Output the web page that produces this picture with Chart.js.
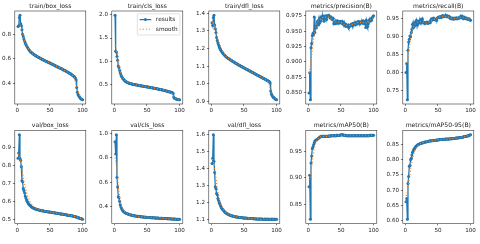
<!DOCTYPE html>
<html><head><meta charset="utf-8">
<script src="https://cdn.jsdelivr.net/npm/chart.js@4.4.1/dist/chart.umd.min.js"></script>
<style>html,body{margin:0;padding:0;background:#fff;width:480px;height:244px;overflow:hidden;position:relative}canvas{position:absolute;left:0;top:0}</style>
</head><body>
<script>
const epochs = [1,2,3,4,5,6,7,8,9,10,11,12,13,14,15,16,17,18,19,20,21,22,23,24,25,26,27,28,29,30,31,32,33,34,35,36,37,38,39,40,41,42,43,44,45,46,47,48,49,50,51,52,53,54,55,56,57,58,59,60,61,62,63,64,65,66,67,68,69,70,71,72,73,74,75,76,77,78,79,80,81,82,83,84,85,86,87,88,89,90,91,92,93,94,95,96,97,98,99,100];
const titles = ['train/box_loss','train/cls_loss','train/dfl_loss','metrics/precision(B)','metrics/recall(B)','val/box_loss','val/cls_loss','val/dfl_loss','metrics/mAP50(B)','metrics/mAP50-95(B)'];
const seriesLabels = ['results','smooth'];
const xTickLabels = ['0','50','100'];

const trainBoxLoss = [0.862,0.868,0.935,0.953,0.885,0.870,0.835,0.800,0.780,0.760,0.745,0.731,0.719,0.707,0.697,0.688,0.680,0.672,0.665,0.658,0.654,0.649,0.645,0.641,0.637,0.634,0.630,0.627,0.623,0.620,0.617,0.614,0.611,0.608,0.605,0.602,0.599,0.597,0.594,0.591,0.589,0.586,0.583,0.581,0.578,0.576,0.573,0.571,0.568,0.566,0.563,0.561,0.558,0.556,0.553,0.550,0.548,0.545,0.543,0.540,0.537,0.535,0.532,0.529,0.527,0.524,0.521,0.519,0.516,0.513,0.510,0.508,0.505,0.502,0.499,0.496,0.493,0.490,0.487,0.484,0.481,0.477,0.474,0.470,0.466,0.462,0.457,0.452,0.446,0.432,0.368,0.330,0.312,0.301,0.293,0.286,0.280,0.276,0.272,0.269];
const trainBoxLossSmooth = [0.887,0.886,0.882,0.874,0.862,0.846,0.828,0.808,0.789,0.771,0.754,0.739,0.725,0.713,0.702,0.692,0.683,0.675,0.668,0.662,0.656,0.651,0.646,0.642,0.638,0.634,0.631,0.627,0.624,0.620,0.617,0.614,0.611,0.608,0.605,0.602,0.599,0.597,0.594,0.591,0.589,0.586,0.583,0.581,0.578,0.576,0.573,0.571,0.568,0.566,0.563,0.561,0.558,0.556,0.553,0.550,0.548,0.545,0.543,0.540,0.537,0.535,0.532,0.529,0.527,0.524,0.521,0.519,0.516,0.513,0.510,0.508,0.505,0.502,0.499,0.496,0.493,0.490,0.486,0.483,0.480,0.476,0.472,0.468,0.464,0.457,0.447,0.433,0.417,0.399,0.379,0.359,0.341,0.325,0.312,0.301,0.293,0.286,0.281,0.278];
const trainClsLoss = [1.995,1.215,1.195,1.100,1.020,0.895,0.860,0.800,0.745,0.705,0.672,0.645,0.622,0.603,0.588,0.575,0.563,0.553,0.545,0.537,0.531,0.525,0.520,0.515,0.511,0.507,0.503,0.499,0.496,0.493,0.490,0.487,0.484,0.481,0.478,0.475,0.473,0.470,0.467,0.465,0.462,0.460,0.457,0.455,0.452,0.450,0.447,0.445,0.442,0.440,0.437,0.435,0.432,0.430,0.427,0.425,0.422,0.419,0.417,0.414,0.411,0.409,0.406,0.403,0.400,0.397,0.394,0.391,0.388,0.385,0.382,0.379,0.376,0.372,0.369,0.366,0.362,0.358,0.355,0.351,0.347,0.343,0.339,0.335,0.330,0.326,0.321,0.316,0.310,0.300,0.218,0.198,0.188,0.181,0.176,0.171,0.168,0.165,0.162,0.160];
const trainClsLossSmooth = [1.344,1.306,1.239,1.153,1.063,0.977,0.903,0.834,0.781,0.738,0.701,0.666,0.642,0.622,0.605,0.590,0.578,0.567,0.558,0.550,0.542,0.535,0.529,0.523,0.518,0.513,0.509,0.505,0.501,0.497,0.494,0.490,0.487,0.484,0.481,0.478,0.475,0.472,0.469,0.466,0.463,0.460,0.458,0.455,0.453,0.450,0.447,0.445,0.442,0.440,0.437,0.435,0.432,0.430,0.427,0.425,0.422,0.419,0.417,0.414,0.411,0.409,0.406,0.403,0.400,0.397,0.394,0.391,0.388,0.385,0.382,0.379,0.375,0.372,0.369,0.365,0.362,0.358,0.354,0.350,0.346,0.342,0.338,0.333,0.327,0.319,0.308,0.294,0.276,0.257,0.238,0.221,0.207,0.196,0.187,0.180,0.175,0.171,0.168,0.167];
const trainDflLoss = [1.345,1.330,1.375,1.388,1.332,1.312,1.290,1.262,1.245,1.230,1.220,1.210,1.201,1.193,1.187,1.181,1.176,1.171,1.167,1.163,1.159,1.156,1.152,1.149,1.146,1.143,1.141,1.138,1.136,1.133,1.131,1.128,1.126,1.124,1.121,1.119,1.117,1.115,1.113,1.110,1.108,1.106,1.104,1.102,1.100,1.098,1.096,1.094,1.092,1.090,1.088,1.086,1.084,1.082,1.080,1.078,1.076,1.074,1.072,1.070,1.068,1.066,1.064,1.062,1.060,1.058,1.056,1.054,1.052,1.050,1.048,1.046,1.044,1.042,1.040,1.038,1.036,1.034,1.032,1.030,1.028,1.026,1.024,1.022,1.020,1.018,1.016,1.014,1.011,1.006,0.958,0.943,0.935,0.929,0.924,0.920,0.917,0.914,0.911,0.909];
const trainDflLossSmooth = [1.347,1.345,1.340,1.333,1.323,1.311,1.297,1.283,1.269,1.256,1.244,1.233,1.222,1.212,1.203,1.195,1.188,1.181,1.175,1.169,1.164,1.160,1.156,1.152,1.148,1.145,1.142,1.139,1.136,1.134,1.131,1.128,1.126,1.124,1.121,1.119,1.117,1.115,1.113,1.110,1.108,1.106,1.104,1.102,1.100,1.098,1.096,1.094,1.092,1.090,1.088,1.086,1.084,1.082,1.080,1.078,1.076,1.074,1.072,1.070,1.068,1.066,1.064,1.062,1.060,1.058,1.056,1.054,1.052,1.050,1.048,1.046,1.044,1.042,1.040,1.038,1.036,1.034,1.032,1.030,1.028,1.026,1.023,1.021,1.018,1.014,1.009,1.002,0.993,0.982,0.970,0.959,0.949,0.941,0.934,0.928,0.924,0.920,0.918,0.917];
const precision = [0.849,0.882,0.838,0.923,0.930,0.943,0.946,0.944,0.973,0.948,0.958,0.955,0.962,0.966,0.960,0.968,0.963,0.972,0.966,0.973,0.971,0.975,0.970,0.966,0.974,0.972,0.975,0.969,0.975,0.974,0.976,0.973,0.974,0.971,0.973,0.970,0.969,0.971,0.962,0.964,0.962,0.966,0.963,0.967,0.964,0.966,0.963,0.965,0.966,0.964,0.963,0.966,0.962,0.964,0.960,0.962,0.958,0.961,0.959,0.957,0.960,0.956,0.959,0.958,0.961,0.960,0.962,0.959,0.963,0.961,0.963,0.960,0.964,0.962,0.965,0.963,0.966,0.964,0.962,0.965,0.964,0.966,0.963,0.967,0.965,0.962,0.966,0.956,0.968,0.963,0.958,0.962,0.967,0.969,0.966,0.970,0.968,0.972,0.974,0.975];
const precisionSmooth = [0.882,0.886,0.893,0.902,0.911,0.920,0.929,0.937,0.944,0.950,0.955,0.959,0.962,0.964,0.966,0.967,0.968,0.969,0.970,0.971,0.971,0.972,0.972,0.972,0.973,0.973,0.973,0.973,0.973,0.973,0.973,0.972,0.971,0.971,0.970,0.969,0.968,0.967,0.966,0.965,0.965,0.965,0.965,0.965,0.965,0.965,0.965,0.965,0.964,0.964,0.964,0.963,0.963,0.962,0.961,0.961,0.960,0.960,0.959,0.959,0.959,0.959,0.959,0.960,0.960,0.960,0.961,0.961,0.962,0.962,0.962,0.963,0.963,0.963,0.964,0.964,0.964,0.964,0.964,0.964,0.965,0.965,0.965,0.964,0.964,0.964,0.964,0.964,0.963,0.963,0.964,0.965,0.966,0.967,0.968,0.969,0.970,0.971,0.971,0.972];
const recall = [0.800,0.825,0.724,0.862,0.885,0.893,0.902,0.900,0.912,0.920,0.935,0.925,0.937,0.930,0.940,0.933,0.946,0.938,0.934,0.942,0.940,0.945,0.938,0.948,0.943,0.950,0.941,0.938,0.940,0.937,0.940,0.938,0.941,0.939,0.937,0.940,0.942,0.939,0.947,0.950,0.946,0.949,0.952,0.948,0.950,0.947,0.949,0.946,0.952,0.954,0.955,0.953,0.956,0.954,0.957,0.955,0.959,0.956,0.957,0.958,0.957,0.960,0.956,0.957,0.958,0.955,0.957,0.953,0.951,0.953,0.950,0.952,0.951,0.949,0.952,0.950,0.951,0.953,0.950,0.952,0.951,0.953,0.952,0.955,0.957,0.953,0.958,0.954,0.950,0.955,0.952,0.950,0.953,0.951,0.949,0.950,0.948,0.950,0.947,0.946];
const recallSmooth = [0.818,0.823,0.833,0.845,0.858,0.871,0.884,0.895,0.905,0.913,0.920,0.925,0.930,0.933,0.936,0.938,0.939,0.940,0.941,0.941,0.942,0.942,0.942,0.942,0.942,0.942,0.941,0.941,0.940,0.940,0.939,0.939,0.939,0.940,0.940,0.941,0.942,0.943,0.945,0.946,0.947,0.948,0.949,0.949,0.949,0.950,0.950,0.951,0.952,0.953,0.954,0.955,0.955,0.956,0.956,0.957,0.957,0.957,0.957,0.957,0.957,0.957,0.957,0.956,0.956,0.955,0.954,0.954,0.953,0.952,0.952,0.951,0.951,0.951,0.951,0.951,0.951,0.951,0.951,0.952,0.952,0.953,0.953,0.954,0.954,0.954,0.954,0.954,0.953,0.953,0.952,0.952,0.951,0.950,0.950,0.949,0.949,0.948,0.948,0.948];
const valBoxLoss = [0.840,0.870,0.972,0.840,0.830,0.795,0.715,0.710,0.672,0.660,0.648,0.630,0.619,0.609,0.600,0.593,0.587,0.582,0.578,0.575,0.572,0.569,0.566,0.564,0.562,0.560,0.559,0.557,0.556,0.555,0.554,0.553,0.552,0.551,0.550,0.549,0.548,0.548,0.547,0.546,0.545,0.545,0.544,0.543,0.543,0.542,0.542,0.541,0.541,0.540,0.539,0.539,0.538,0.538,0.537,0.537,0.536,0.535,0.535,0.534,0.533,0.533,0.532,0.532,0.531,0.530,0.530,0.529,0.529,0.528,0.527,0.527,0.526,0.525,0.525,0.524,0.523,0.523,0.522,0.521,0.521,0.520,0.520,0.519,0.518,0.517,0.516,0.515,0.514,0.513,0.512,0.511,0.509,0.508,0.507,0.505,0.504,0.503,0.501,0.500];
const valBoxLossSmooth = [0.863,0.860,0.853,0.841,0.825,0.805,0.783,0.760,0.737,0.716,0.697,0.680,0.664,0.650,0.638,0.627,0.617,0.609,0.601,0.595,0.589,0.584,0.579,0.575,0.572,0.568,0.566,0.563,0.561,0.559,0.557,0.555,0.554,0.552,0.551,0.550,0.549,0.548,0.547,0.546,0.545,0.545,0.544,0.543,0.543,0.542,0.542,0.541,0.541,0.540,0.539,0.539,0.538,0.538,0.537,0.537,0.536,0.535,0.535,0.534,0.533,0.533,0.532,0.532,0.531,0.530,0.530,0.529,0.529,0.528,0.527,0.527,0.526,0.525,0.525,0.524,0.523,0.523,0.522,0.521,0.521,0.520,0.520,0.519,0.518,0.517,0.516,0.515,0.514,0.513,0.512,0.511,0.510,0.508,0.507,0.506,0.505,0.504,0.503,0.503];
const valClsLoss = [0.930,0.830,0.988,0.640,0.560,0.482,0.472,0.445,0.415,0.398,0.385,0.375,0.367,0.361,0.356,0.352,0.349,0.346,0.344,0.342,0.340,0.338,0.336,0.334,0.332,0.331,0.330,0.328,0.327,0.326,0.325,0.324,0.323,0.322,0.322,0.321,0.320,0.319,0.319,0.318,0.317,0.317,0.316,0.316,0.315,0.315,0.314,0.314,0.313,0.313,0.312,0.312,0.312,0.311,0.311,0.310,0.310,0.310,0.309,0.309,0.309,0.308,0.308,0.308,0.307,0.307,0.307,0.306,0.306,0.306,0.305,0.305,0.305,0.304,0.304,0.304,0.303,0.303,0.303,0.303,0.302,0.302,0.302,0.301,0.301,0.301,0.300,0.300,0.300,0.300,0.299,0.299,0.299,0.298,0.298,0.298,0.298,0.297,0.297,0.297];
const valClsLossSmooth = [0.802,0.781,0.741,0.689,0.632,0.575,0.524,0.481,0.447,0.424,0.406,0.392,0.381,0.372,0.365,0.359,0.354,0.350,0.347,0.344,0.341,0.339,0.337,0.335,0.333,0.331,0.330,0.328,0.327,0.326,0.325,0.324,0.323,0.322,0.322,0.321,0.320,0.319,0.319,0.318,0.317,0.317,0.316,0.316,0.315,0.315,0.314,0.314,0.313,0.313,0.312,0.312,0.312,0.311,0.311,0.310,0.310,0.310,0.309,0.309,0.309,0.308,0.308,0.308,0.307,0.307,0.307,0.306,0.306,0.306,0.305,0.305,0.305,0.304,0.304,0.304,0.303,0.303,0.303,0.303,0.302,0.302,0.302,0.301,0.301,0.301,0.300,0.300,0.300,0.300,0.299,0.299,0.299,0.298,0.298,0.298,0.298,0.297,0.297,0.297];
const valDflLoss = [1.428,1.460,1.598,1.440,1.375,1.292,1.280,1.252,1.245,1.222,1.210,1.198,1.190,1.180,1.172,1.165,1.159,1.154,1.150,1.146,1.142,1.139,1.136,1.133,1.131,1.129,1.127,1.125,1.124,1.122,1.121,1.120,1.119,1.118,1.117,1.116,1.115,1.114,1.114,1.113,1.112,1.112,1.111,1.111,1.110,1.110,1.109,1.109,1.108,1.108,1.107,1.107,1.107,1.106,1.106,1.106,1.105,1.105,1.105,1.104,1.104,1.104,1.104,1.103,1.103,1.103,1.103,1.102,1.102,1.102,1.102,1.102,1.101,1.101,1.101,1.101,1.101,1.101,1.100,1.100,1.100,1.101,1.100,1.100,1.100,1.101,1.100,1.100,1.100,1.100,1.100,1.100,1.101,1.100,1.100,1.100,1.100,1.100,1.100,1.100];
const valDflLossSmooth = [1.454,1.449,1.439,1.422,1.399,1.372,1.343,1.314,1.287,1.263,1.243,1.225,1.210,1.197,1.186,1.177,1.169,1.162,1.156,1.151,1.146,1.142,1.139,1.136,1.133,1.131,1.129,1.127,1.125,1.123,1.122,1.120,1.119,1.118,1.117,1.116,1.115,1.114,1.114,1.113,1.112,1.112,1.111,1.111,1.110,1.110,1.109,1.109,1.108,1.108,1.107,1.107,1.107,1.106,1.106,1.106,1.105,1.105,1.105,1.104,1.104,1.104,1.104,1.103,1.103,1.103,1.103,1.102,1.102,1.102,1.102,1.102,1.101,1.101,1.101,1.101,1.101,1.101,1.100,1.100,1.100,1.100,1.100,1.100,1.100,1.100,1.100,1.100,1.100,1.100,1.100,1.100,1.100,1.100,1.100,1.100,1.100,1.100,1.100,1.100];
const mAP50 = [0.883,0.905,0.822,0.928,0.941,0.955,0.958,0.962,0.966,0.969,0.970,0.971,0.972,0.973,0.974,0.975,0.976,0.977,0.977,0.978,0.978,0.978,0.978,0.978,0.978,0.978,0.978,0.978,0.978,0.978,0.978,0.979,0.978,0.979,0.979,0.979,0.979,0.979,0.979,0.979,0.979,0.979,0.980,0.979,0.980,0.980,0.980,0.980,0.980,0.981,0.981,0.981,0.981,0.980,0.980,0.980,0.980,0.979,0.979,0.979,0.979,0.979,0.979,0.979,0.979,0.979,0.979,0.979,0.979,0.979,0.979,0.979,0.979,0.979,0.979,0.979,0.979,0.979,0.979,0.979,0.979,0.979,0.979,0.979,0.979,0.979,0.979,0.979,0.979,0.979,0.979,0.979,0.979,0.980,0.980,0.980,0.980,0.980,0.980,0.980];
const mAP50Smooth = [0.895,0.898,0.904,0.912,0.921,0.930,0.939,0.947,0.954,0.959,0.964,0.967,0.970,0.972,0.973,0.975,0.976,0.976,0.977,0.977,0.977,0.978,0.978,0.978,0.978,0.978,0.978,0.978,0.978,0.978,0.978,0.978,0.979,0.979,0.979,0.979,0.979,0.979,0.979,0.979,0.979,0.979,0.979,0.979,0.980,0.980,0.980,0.980,0.980,0.980,0.980,0.980,0.980,0.980,0.980,0.980,0.980,0.979,0.979,0.979,0.979,0.979,0.979,0.979,0.979,0.979,0.979,0.979,0.979,0.979,0.979,0.979,0.979,0.979,0.979,0.979,0.979,0.979,0.979,0.979,0.979,0.979,0.979,0.979,0.979,0.979,0.979,0.979,0.979,0.979,0.979,0.979,0.979,0.980,0.980,0.980,0.980,0.980,0.980,0.980];
const mAP5095 = [0.662,0.672,0.604,0.722,0.745,0.778,0.781,0.800,0.805,0.815,0.824,0.829,0.834,0.837,0.840,0.843,0.845,0.847,0.849,0.850,0.851,0.852,0.853,0.854,0.855,0.855,0.856,0.857,0.857,0.858,0.858,0.859,0.859,0.860,0.860,0.861,0.861,0.861,0.862,0.862,0.862,0.863,0.863,0.863,0.864,0.864,0.864,0.865,0.865,0.865,0.865,0.866,0.866,0.866,0.866,0.866,0.867,0.867,0.867,0.867,0.867,0.868,0.868,0.868,0.868,0.868,0.868,0.869,0.869,0.869,0.869,0.869,0.870,0.870,0.870,0.870,0.871,0.871,0.871,0.871,0.872,0.872,0.872,0.873,0.873,0.873,0.874,0.874,0.875,0.875,0.876,0.876,0.877,0.877,0.878,0.879,0.879,0.880,0.881,0.882];
const mAP5095Smooth = [0.681,0.685,0.693,0.705,0.720,0.736,0.752,0.767,0.781,0.793,0.803,0.812,0.820,0.826,0.832,0.836,0.840,0.843,0.846,0.848,0.850,0.851,0.852,0.853,0.854,0.855,0.856,0.857,0.857,0.858,0.858,0.859,0.859,0.860,0.860,0.861,0.861,0.861,0.862,0.862,0.862,0.863,0.863,0.863,0.864,0.864,0.864,0.865,0.865,0.865,0.865,0.866,0.866,0.866,0.866,0.866,0.867,0.867,0.867,0.867,0.867,0.868,0.868,0.868,0.868,0.868,0.868,0.869,0.869,0.869,0.869,0.869,0.870,0.870,0.870,0.870,0.871,0.871,0.871,0.871,0.872,0.872,0.872,0.873,0.873,0.873,0.874,0.874,0.875,0.875,0.876,0.876,0.877,0.877,0.878,0.878,0.878,0.879,0.879,0.879];

const ticksTrainBox = ['0.4','0.6','0.8'];
const ticksTrainCls = ['0.5','1.0','1.5','2.0'];
const ticksTrainDfl = ['0.9','1.0','1.1','1.2','1.3','1.4'];
const ticksPrecision = ['0.850','0.875','0.900','0.925','0.950','0.975'];
const ticksRecall = ['0.75','0.80','0.85','0.90','0.95'];
const ticksValBox = ['0.5','0.6','0.7','0.8','0.9'];
const ticksValCls = ['0.4','0.6','0.8','1.0'];
const ticksValDfl = ['1.1','1.2','1.3','1.4','1.5','1.6'];
const ticksMAP50 = ['0.85','0.90','0.95'];
const ticksMAP5095 = ['0.60','0.65','0.70','0.75','0.80','0.85'];

const panels = [
  [trainBoxLoss, trainBoxLossSmooth, ticksTrainBox],
  [trainClsLoss, trainClsLossSmooth, ticksTrainCls],
  [trainDflLoss, trainDflLossSmooth, ticksTrainDfl],
  [precision, precisionSmooth, ticksPrecision],
  [recall, recallSmooth, ticksRecall],
  [valBoxLoss, valBoxLossSmooth, ticksValBox],
  [valClsLoss, valClsLossSmooth, ticksValCls],
  [valDflLoss, valDflLossSmooth, ticksValDfl],
  [mAP50, mAP50Smooth, ticksMAP50],
  [mAP5095, mAP5095Smooth, ticksMAP5095]
];

// layout (px)
const COL_L = [14.8, 111.8, 208.8, 305.8, 402.8];
const ROW_T = [11, 130.5];
const PW = 71, PH = 93, YW = 30, XH = 12;
const FONT = '"DejaVu Sans", sans-serif';
const TICK_FS = 5.6, TITLE_FS = 6.1, LEG_FS = 5.8;
const BLUE = '#1f77b4', ORANGE = '#ff7f0e';

const framePlugin = {
  id: 'frame',
  afterDatasetsDraw(chart) {
    const {ctx, chartArea: a} = chart;
    ctx.save();
    ctx.strokeStyle = '#222';
    ctx.lineWidth = 0.55;
    ctx.strokeRect(a.left, a.top, a.right - a.left, a.bottom - a.top);
    ctx.restore();
  }
};
const titlePlugin = {
  id: 'panelTitle',
  afterDraw(chart, args, opts) {
    const {ctx, chartArea: a} = chart;
    ctx.save();
    ctx.font = TITLE_FS + 'px ' + FONT;
    ctx.fillStyle = '#1a1a1a';
    ctx.textAlign = 'center';
    ctx.textBaseline = 'alphabetic';
    ctx.fillText(opts.text, (a.left + a.right) / 2, a.top - 3.3);
    ctx.restore();
  }
};
const legendPlugin = {
  id: 'innerLegend',
  afterDraw(chart, args, opts) {
    if (!opts.show) return;
    const {ctx, chartArea: a} = chart;
    const fs = LEG_FS;
    ctx.save();
    ctx.font = fs + 'px ' + FONT;
    const labels = chart.data.datasets.map(d => d.label);
    const tw = Math.max(...labels.map(l => ctx.measureText(l).width));
    const pad = 0.4 * fs, hl = 2 * fs, htp = 0.8 * fs, ls = 0.5 * fs, bap = 0.5 * fs, rh = 1.17 * fs;
    const w = pad * 2 + hl + htp + tw, h = pad * 2 + rh * 2 + ls;
    const x0 = a.right - bap - w, y0 = a.top + bap;
    ctx.beginPath();
    if (ctx.roundRect) ctx.roundRect(x0, y0, w, h, 1.2); else ctx.rect(x0, y0, w, h);
    ctx.fillStyle = 'rgba(255,255,255,0.8)';
    ctx.fill();
    ctx.strokeStyle = '#cccccc';
    ctx.lineWidth = 0.6;
    ctx.stroke();
    chart.data.datasets.forEach((d, k) => {
      const cy = y0 + pad + rh / 2 + k * (rh + ls);
      const hx = x0 + pad;
      ctx.beginPath();
      ctx.strokeStyle = d.borderColor;
      ctx.lineWidth = d.borderWidth;
      ctx.setLineDash(d.borderDash || []);
      ctx.moveTo(hx, cy); ctx.lineTo(hx + hl, cy);
      ctx.stroke();
      ctx.setLineDash([]);
      if (d.pointRadius > 0) {
        ctx.beginPath();
        ctx.fillStyle = d.borderColor;
        ctx.arc(hx + hl / 2, cy, d.pointRadius, 0, Math.PI * 2);
        ctx.fill();
      }
      ctx.fillStyle = '#1a1a1a';
      ctx.textAlign = 'left';
      ctx.textBaseline = 'middle';
      ctx.fillText(d.label, hx + hl + htp, cy + 0.3);
    });
    ctx.restore();
  }
};

Chart.defaults.font.family = FONT;
Chart.defaults.font.size = TICK_FS;
Chart.defaults.color = '#1a1a1a';

panels.forEach((p, i) => {
  const [res, sm, yLabels] = p;
  const col = i % 5, row = Math.floor(i / 5);
  const L = COL_L[col], T = ROW_T[row];
  const cv = document.createElement('canvas');
  cv.width = 480; cv.height = 244;
  document.body.appendChild(cv);
  const all = res.concat(sm);
  const lo = Math.min(...all), hi = Math.max(...all), m = (hi - lo) * 0.05;
  const yVals = yLabels.map(Number);
  new Chart(cv, {
    type: 'line',
    data: {
      datasets: [
        {label: seriesLabels[0], data: epochs.map((e, k) => ({x: e, y: res[k]})), borderColor: BLUE, backgroundColor: BLUE,
         borderWidth: 1.25, pointRadius: 1.5, pointBorderWidth: 0, pointBackgroundColor: BLUE, tension: 0, order: 2},
        {label: seriesLabels[1], data: epochs.map((e, k) => ({x: e, y: sm[k]})), borderColor: ORANGE, backgroundColor: ORANGE,
         borderWidth: 1.15, borderDash: [1.15, 1.9], borderCapStyle: 'butt', pointRadius: 0, tension: 0, order: 1}
      ]
    },
    options: {
      responsive: false, animation: false, events: [],
      layout: {padding: {left: L - YW, top: T, right: 480 - (L + PW), bottom: 244 - (T + PH) - XH}},
      plugins: {legend: {display: false}, tooltip: {enabled: false}, panelTitle: {text: titles[i]}, innerLegend: {show: i === 1}},
      scales: {
        x: {
          type: 'linear', min: -3.95, max: 104.95,
          afterBuildTicks: s => { s.ticks = xTickLabels.map(v => ({value: Number(v)})); },
          afterFit: s => { s.height = XH; },
          ticks: {autoSkip: false, maxRotation: 0, minRotation: 0, padding: 1.4, callback: (v, k) => xTickLabels[k], font: {size: TICK_FS}},
          grid: {drawOnChartArea: false, drawTicks: true, tickLength: 1.9, color: '#000', lineWidth: 0.5},
          border: {display: false}
        },
        y: {
          min: lo - m, max: hi + m,
          afterBuildTicks: s => { s.ticks = yVals.map(v => ({value: v})); },
          afterFit: s => { s.width = YW; },
          ticks: {autoSkip: false, padding: 1.9, callback: (v, k) => yLabels[k], font: {size: TICK_FS}},
          grid: {drawOnChartArea: false, drawTicks: true, tickLength: 1.9, color: '#000', lineWidth: 0.5},
          border: {display: false}
        }
      }
    },
    plugins: [framePlugin, titlePlugin, legendPlugin]
  });
});
</script>
</body></html>
